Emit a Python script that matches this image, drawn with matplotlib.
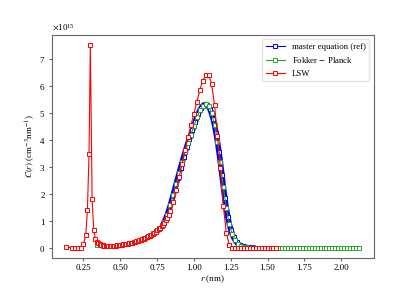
import numpy as np
import matplotlib
matplotlib.use('Agg')
import matplotlib.pyplot as plt
from matplotlib.ticker import ScalarFormatter

plt.rcParams['font.family'] = ['Liberation Serif', 'DejaVu Serif']
plt.rcParams['mathtext.fontset'] = 'stix'
plt.rcParams['font.size'] = 6.5

scale = 1e15

# master equation (ref): sparse part, dense peak part, zero tail
r_me_low = np.round(np.arange(0.34, 0.785, 0.02), 3)
c_me_low = [0.12, 0.10, 0.09, 0.08, 0.08, 0.08, 0.09, 0.10, 0.11, 0.13, 0.15, 0.17,
            0.20, 0.23, 0.27, 0.31, 0.36, 0.41, 0.47, 0.55, 0.64, 0.74, 0.86]
r_me_mid = np.round(np.arange(0.80, 1.405, 0.01), 3)
c_me_mid = [0.98, 1.10, 1.24, 1.40, 1.58, 1.78, 1.98, 2.18, 2.38, 2.58,
            2.78, 2.98, 3.17, 3.36, 3.55, 3.73, 3.90, 4.05, 4.20, 4.36,
            4.52, 4.68, 4.84, 4.98, 5.10, 5.20, 5.27, 5.31, 5.32, 5.30,
            5.24, 5.14, 4.99, 4.80, 4.56, 4.27, 3.94, 3.57, 3.17, 2.72,
            2.26, 1.84, 1.47, 1.15, 0.89, 0.68, 0.52, 0.39, 0.29, 0.21,
            0.15, 0.11, 0.08, 0.06, 0.04, 0.03, 0.02, 0.01, 0.01, 0.0, 0.0]
r_me_tail = np.round(np.arange(1.42, 1.805, 0.02), 3)
c_me_tail = [0.0] * len(r_me_tail)

# Fokker - Planck
r_fp = np.round(np.arange(0.34, 2.125, 0.02), 3)
c_fp_peak = [0.12, 0.10, 0.09, 0.08, 0.08, 0.08, 0.09, 0.10, 0.11, 0.13, 0.15, 0.17,
             0.20, 0.23, 0.27, 0.31, 0.36, 0.41, 0.47, 0.55, 0.64, 0.74, 0.86,
             0.98, 1.24, 1.58, 1.98, 2.38, 2.78, 3.17, 3.55, 3.90, 4.20, 4.52,
             4.84, 5.10, 5.27, 5.33, 5.25, 5.00, 4.56, 3.94, 3.17, 2.26, 1.47,
             0.89, 0.52, 0.29, 0.15, 0.08, 0.04, 0.02, 0.01]
c_fp = c_fp_peak + [0.0] * (len(r_fp) - len(c_fp_peak))

# LSW
r_lsw_spike = [0.135, 0.17, 0.196, 0.214, 0.232, 0.25, 0.266, 0.277, 0.288,
               0.297, 0.309, 0.32, 0.331]
c_lsw_spike = [0.05, 0.0, 0.0, 0.0, 0.0, 0.13, 0.48, 1.4, 3.5,
               7.53, 1.8, 0.67, 0.34]
r_lsw_low = np.round(np.arange(0.34, 0.845, 0.01), 3)
c_lsw_low = [0.22, 0.18, 0.14, 0.12, 0.10, 0.09, 0.08, 0.08, 0.08, 0.08,
             0.08, 0.08, 0.09, 0.09, 0.10, 0.10, 0.11, 0.12, 0.13, 0.14,
             0.15, 0.16, 0.17, 0.18, 0.20, 0.21, 0.23, 0.25, 0.27, 0.29,
             0.31, 0.33, 0.35, 0.37, 0.40, 0.43, 0.46, 0.49, 0.53, 0.57,
             0.61, 0.65, 0.70, 0.75, 0.80, 0.86, 0.93, 1.02, 1.12, 1.24,
             1.38]
r_lsw_high = np.round(np.arange(0.86, 1.565, 0.02), 3)
c_lsw_peak = [1.72, 2.15, 2.62, 3.12, 3.62, 4.10, 4.55, 4.98,
              5.42, 5.85, 6.20, 6.43, 6.42, 6.10, 5.30, 4.15, 2.95, 1.55, 0.55,
              0.12, 0.01]
c_lsw_high = c_lsw_peak + [0.0] * (len(r_lsw_high) - len(c_lsw_peak))

r_me = np.concatenate([r_me_low, r_me_mid, r_me_tail])
c_me = np.array(c_me_low + c_me_mid + c_me_tail) * scale
r_lsw = np.concatenate([r_lsw_spike, r_lsw_low, r_lsw_high])
c_lsw = np.array(c_lsw_spike + c_lsw_low + c_lsw_high) * scale
c_fp = np.array(c_fp) * scale

fig, ax = plt.subplots(figsize=(4.15, 2.9), dpi=100)

style = dict(marker='s', markersize=2.4, markerfacecolor='white',
             markeredgewidth=0.7, linewidth=0.8)
# dense master-equation markers around the peak form a thick band
ax.plot(r_me_mid, np.array(c_me_mid) * scale, color='blue', linewidth=4.0)
ax.plot(r_me, c_me, color='blue', label='master equation (ref)', **style)
ax.plot(r_fp, c_fp, color='#2ca02c', label='Fokker $-$ Planck', **style)
ax.plot(r_lsw, c_lsw, color='red', label='LSW', **style)

fmt = ScalarFormatter(useMathText=True)
ax.yaxis.set_major_formatter(fmt)
ax.set_xticks([0.25, 0.5, 0.75, 1.0, 1.25, 1.5, 1.75, 2.0])

ax.set_xlabel('$r$ (nm)', labelpad=1)
ax.set_ylabel('$C(r)$ (cm$^{-3}$nm$^{-1}$)', labelpad=2)

for s in ax.spines.values():
    s.set_color('#666666')
ax.tick_params(colors='#666666', labelcolor='black', length=2.5, width=0.8, pad=2)

ax.legend(loc='upper right', fontsize=6.3, framealpha=0.8, edgecolor='#dddddd',
          handlelength=2.2)

fig.savefig('out.png', dpi=100)
